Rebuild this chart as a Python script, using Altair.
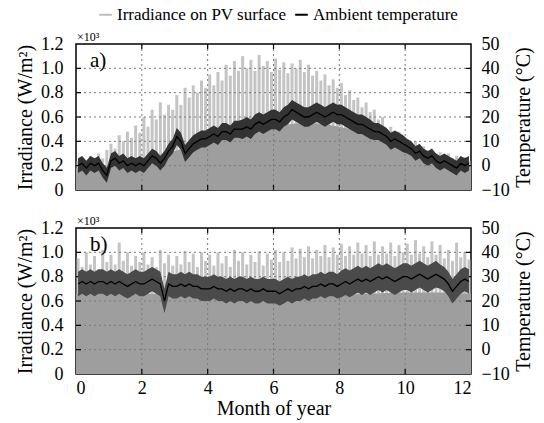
import altair as alt
import pandas as pd

# ---------------- data ----------------
series_names = ["Irradiance on PV surface", "Ambient temperature"]
month_ticks = [0, 2, 4, 6, 8, 10, 12]
grid_months = [2, 4, 6, 8, 10]
irr_ticks = [0, 0.2, 0.4, 0.6, 0.8, 1.0, 1.2]
irr_grid = [0.2, 0.4, 0.6, 0.8, 1.0]
temp_ticks = [-10, 0, 10, 20, 30, 40, 50]

# irradiance peaks (x10^3 W/m2), 8 samples per month
peak_a = [
    0.24, 0.27, 0.22, 0.28, 0.25, 0.30, 0.26, 0.33,
    0.38, 0.34, 0.45, 0.40, 0.48, 0.43, 0.53, 0.47,
    0.60, 0.52, 0.66, 0.58, 0.72, 0.62, 0.70, 0.66,
    0.78, 0.70, 0.84, 0.76, 0.86, 0.80, 0.90, 0.84,
    0.95, 0.86, 0.97, 0.90, 1.03, 0.94, 1.06, 0.98,
    1.10, 1.00, 1.07, 0.98, 1.11, 1.02, 1.06, 0.97,
    1.08, 0.99, 1.05, 0.96, 1.04, 1.00, 1.07, 0.97,
    1.03, 0.94, 0.98, 0.90, 0.95, 0.86, 0.91, 0.84,
    0.88, 0.78, 0.82, 0.74, 0.76, 0.68, 0.72, 0.64,
    0.66, 0.58, 0.60, 0.50, 0.52, 0.45, 0.48, 0.42,
    0.42, 0.38, 0.40, 0.35, 0.36, 0.32, 0.34, 0.30,
    0.31, 0.28, 0.30, 0.26, 0.28, 0.25, 0.27, 0.24,
]
peak_b = [
    0.95, 0.88, 1.00, 0.90, 0.97, 0.86, 1.02, 0.92,
    0.98, 0.90, 1.08, 0.93, 1.00, 0.89, 0.97, 0.92,
    1.00, 0.90, 0.96, 0.88, 1.02, 0.91, 0.98, 0.89,
    0.97, 0.90, 1.01, 0.92, 0.99, 0.88, 1.00, 0.93,
    0.98, 0.89, 1.00, 0.91, 0.97, 0.88, 1.02, 0.93,
    1.00, 0.90, 0.98, 0.92, 1.01, 0.89, 0.99, 0.94,
    1.02, 0.92, 1.00, 0.93, 1.04, 0.95, 1.03, 0.96,
    1.05, 0.95, 1.02, 0.97, 1.06, 0.96, 1.04, 0.98,
    1.07, 0.97, 1.05, 0.98, 1.08, 0.99, 1.06, 0.97,
    1.09, 0.98, 1.05, 0.99, 1.08, 0.97, 1.06, 1.00,
    1.07, 0.98, 1.10, 0.99, 1.05, 0.96, 1.09, 0.98,
    1.06, 0.95, 1.02, 0.93, 1.08, 0.96, 1.00, 0.94,
]
# typical (dense) irradiance level at month boundaries 0..12
body_a = [0.18, 0.20, 0.25, 0.32, 0.40, 0.48, 0.52, 0.55, 0.52, 0.45, 0.35, 0.25, 0.20]
body_b = [0.66, 0.67, 0.66, 0.66, 0.65, 0.65, 0.64, 0.64, 0.65, 0.66, 0.67, 0.67, 0.66]

# ambient temperature (deg C), 8 samples per month
temp_a = [
    0, 1, -1, 1, 0, 1, -2, -4,
    2, 3, 1, 2, 0, 1, 0, 1,
    0, 2, 4, 3, 1, 3, 6, 8,
    12, 10, 5, 7, 9, 10, 11, 11,
    12, 13, 12, 14, 14, 13, 15, 15,
    15, 16, 15, 17, 18, 17, 18, 19,
    19, 18, 20, 21, 23, 22, 21, 20,
    20, 21, 22, 21, 20, 21, 22, 21,
    21, 20, 19, 18, 17, 17, 16, 15,
    14, 14, 13, 12, 10, 11, 10, 9,
    8, 7, 5, 6, 4, 3, 4, 2,
    1, 2, 1, 0, -1, 1, 0, 1,
]
temp_b = [
    27, 28, 27, 28, 27, 28, 28, 27,
    28, 27, 28, 27, 26, 27, 28, 27,
    27, 28, 29, 28, 27, 20, 27, 26,
    26, 27, 26, 27, 26, 26, 25, 25,
    25, 26, 25, 25, 24, 25, 24, 25,
    25, 24, 25, 24, 24, 25, 24, 24,
    24, 23, 24, 25, 24, 25, 25, 26,
    25, 26, 26, 27, 26, 27, 27, 26,
    27, 28, 27, 28, 29, 28, 29, 28,
    29, 30, 29, 30, 29, 28, 29, 30,
    30, 29, 30, 31, 30, 29, 30, 31,
    30, 29, 27, 24, 26, 28, 29, 28,
]
# half of the daily temperature range per month
half_range_a = [3, 3, 3, 3.5, 3.5, 4, 4, 4, 4, 3.5, 3, 3]
half_range_b = [5, 5, 5, 5, 5, 5, 5, 5, 5.5, 5.5, 5.5, 5]

# ---------------- layout / style ----------------
W, H = 395, 146
FONT = "Liberation Serif"
x_scale = alt.Scale(domain=[0, 12], nice=False, zero=False)
irr_scale = alt.Scale(domain=[0, 1.2], nice=False, zero=False)
temp_scale = alt.Scale(domain=[-10, 50], nice=False, zero=False)

irr_axis = alt.Axis(values=irr_ticks, title="Irradiance (W/m²)",
                    labelExpr="datum.value == 0 ? '0' : format(datum.value, '.1f')",
                    ticks=False, domain=False, grid=False, labelPadding=13,
                    titlePadding=5, labelFontSize=18, titleFontSize=20,
                    labelFont=FONT, titleFont=FONT)
temp_axis = alt.Axis(values=temp_ticks, title="Temperature (°C)", orient="right",
                     ticks=False, domain=False, grid=False, labelPadding=10,
                     titlePadding=24, titleAngle=270, labelFontSize=18, titleFontSize=20,
                     labelFont=FONT, titleFont=FONT)
x_axis_bottom = alt.Axis(values=month_ticks, title="Month of year", ticks=False,
                         domain=False, grid=False, labelPadding=5, titlePadding=1,
                         labelFontSize=18, titleFontSize=20,
                         labelFont=FONT, titleFont=FONT)


def make_tables(peaks, body, temps, half):
    n = len(peaks)
    pk = pd.DataFrame({
        "m": [(i + 0.5) / 8 for i in range(n)],
        "irr": peaks,
        "zero": [0.0] * n,
    })
    bd = pd.DataFrame({"m": list(range(len(body))), "irr": body})
    tp = pd.DataFrame({
        "m": [(i + 0.5) / 8 for i in range(len(temps))],
        "t": temps,
        "lo": [t - half[i // 8] for i, t in enumerate(temps)],
        "hi": [t + half[i // 8] for i, t in enumerate(temps)],
        "series": series_names[1],
    })
    return pk, bd, tp


def panel(peaks, body, temps, half, tag, bottom, band_color):
    pk, bd, tp = make_tables(peaks, body, temps, half)
    xa = x_axis_bottom if bottom else None

    def X(f):
        return alt.X(f, scale=x_scale, axis=xa)

    def YI(f):
        return alt.Y(f, scale=irr_scale, axis=irr_axis)

    def YT(f):
        return alt.Y(f, scale=temp_scale, axis=temp_axis)

    peaks_layer = alt.Chart(pk).mark_rule(color="#c4c4c4", strokeWidth=3).encode(
        x=X("m:Q"), y=YI("irr:Q"), y2="zero:Q")
    body_layer = alt.Chart(bd).mark_area(color="#9e9e9e", interpolate="monotone").encode(
        x=X("m:Q"), y=YI("irr:Q"))
    ygrid = alt.Chart(pd.DataFrame({"v": irr_grid})).mark_rule(
        color="#7a7a7a", strokeDash=[2, 3], strokeWidth=1).encode(y=YI("v:Q"))
    xgrid = alt.Chart(pd.DataFrame({"v": grid_months})).mark_rule(
        color="#7a7a7a", strokeDash=[2, 3], strokeWidth=1).encode(x=X("v:Q"))
    xt = pd.DataFrame({"v": grid_months})
    tick_b = alt.Chart(xt).mark_rule(color="black", strokeWidth=1.2).encode(
        x=X("v:Q"), y=alt.value(H), y2=alt.value(H - 5))
    tick_t = alt.Chart(xt).mark_rule(color="black", strokeWidth=1.2).encode(
        x=X("v:Q"), y=alt.value(0), y2=alt.value(5))
    yt = pd.DataFrame({"v": irr_ticks[1:-1]})
    tick_l = alt.Chart(yt).mark_rule(color="black", strokeWidth=1.2).encode(
        y=YI("v:Q"), x=alt.value(0), x2=alt.value(5))
    tick_r = alt.Chart(yt).mark_rule(color="black", strokeWidth=1.2).encode(
        y=YI("v:Q"), x=alt.value(W - 5), x2=alt.value(W))
    mult = alt.Chart(pd.DataFrame({"s": ["×10³"]})).mark_text(
        font=FONT, fontSize=12, align="left", baseline="alphabetic").encode(
        text="s:N", x=alt.value(1), y=alt.value(-3))
    label = alt.Chart(pd.DataFrame({"s": [tag]})).mark_text(
        font=FONT, fontSize=21, align="left", baseline="alphabetic").encode(
        text="s:N", x=alt.value(14), y=alt.value(23))

    irr = alt.layer(peaks_layer, body_layer, ygrid, xgrid, tick_b, tick_t, tick_l,
                    tick_r, mult, label)

    band = alt.Chart(tp).mark_area(color=band_color).encode(
        x=X("m:Q"), y=YT("lo:Q"), y2="hi:Q")
    line = alt.Chart(tp).mark_line(strokeWidth=1.3).encode(
        x=X("m:Q"), y=YT("t:Q"),
        color=alt.Color("series:N",
                        scale=alt.Scale(domain=series_names, range=["#bdbdbd", "#000000"]),
                        legend=alt.Legend(orient="none", legendX=21, legendY=-38,
                                          direction="horizontal", title=None,
                                          symbolType="stroke", symbolSize=160,
                                          symbolStrokeWidth=2, labelFontSize=17,
                                          labelFont=FONT, columnPadding=4,
                                          labelOffset=3, labelLimit=400)),
    )
    temp = alt.layer(band, line)
    return alt.layer(irr, temp).resolve_scale(y="independent").properties(width=W, height=H)


top = panel(peak_a, body_a, temp_a, half_range_a, "a)", False, "#333333")
bot = panel(peak_b, body_b, temp_b, half_range_b, "b)", True, "#4a4a4a")

chart = alt.vconcat(top, bot, spacing=14).properties(
    padding={"left": 14, "top": 6, "right": 6, "bottom": 2},
    autosize=alt.AutoSizeParams(type="pad"),
).configure(font=FONT).configure_view(stroke="black", strokeWidth=1.5).configure_axis(
    labelColor="black", titleColor="black", titleFontWeight="normal",
)

chart.save("out.html", embed_options={"renderer": "svg", "actions": False})
